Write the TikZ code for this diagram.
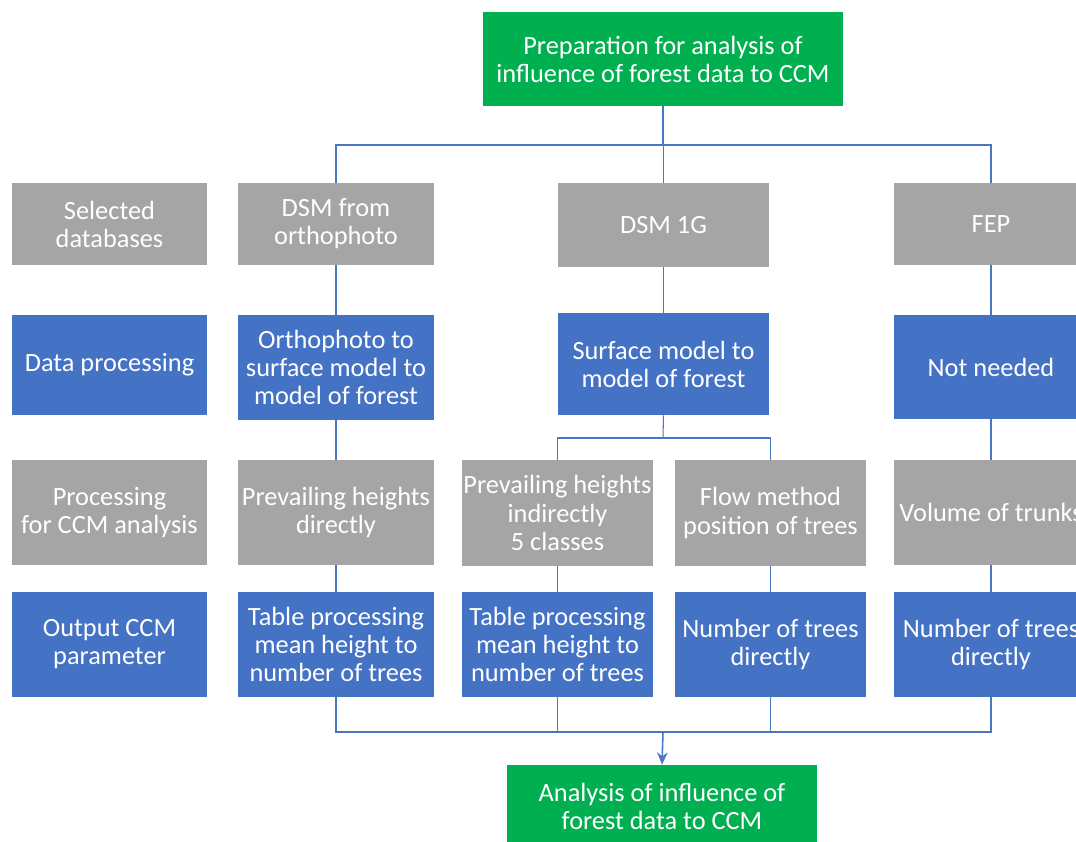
\documentclass[tikz,border=0pt]{standalone}
\usepackage{fontspec}
\setmainfont{Carlito}
\usetikzlibrary{arrows.meta}
\definecolor{boxgreen}{HTML}{00B050}
\definecolor{boxblue}{HTML}{4472C4}
\definecolor{boxgray}{HTML}{A5A5A5}
\definecolor{linkblue}{HTML}{4A76C6}
\begin{document}
\begin{tikzpicture}[x=0.02cm,y=-0.02cm,
    box/.style={text=white,inner sep=0pt,align=center,font=\fontsize{15}{16}\selectfont},
    greenbox/.style={box,fill=boxgreen},
    bluebox/.style={box,fill=boxblue},
    graybox/.style={box,fill=boxgray},
    link/.style={draw=linkblue,line width=0.6pt}]
  \useasboundingbox (0,0) rectangle (1076,842);
  %start
  \node[greenbox,minimum width=7.2cm,minimum height=1.88cm] (prep) at (663,59) {Preparation for analysis of\\influence of forest data to CCM};
  %databases
  \node[graybox,minimum width=3.9cm,minimum height=1.64cm] (seldb) at (109.5,224) {Selected\\databases};
  \node[graybox,minimum width=3.92cm,minimum height=1.64cm] (dsmo) at (336,224) {DSM from\\orthophoto};
  \node[graybox,minimum width=4.22cm,minimum height=1.68cm] (dsmg) at (663.5,225) {DSM 1G};
  \node[graybox,minimum width=3.88cm,minimum height=1.64cm] (fep) at (991,224) {FEP};
  %data processing
  \node[bluebox,minimum width=3.9cm,minimum height=2cm] (datap) at (109.5,365) {Data processing};
  \node[bluebox,minimum width=3.92cm,minimum height=2.1cm] (ortho) at (336,367.5) {Orthophoto to\\surface model to\\model of forest};
  \node[bluebox,minimum width=4.22cm,minimum height=2.04cm] (surf) at (663.5,364) {Surface model to\\model of forest};
  \node[bluebox,minimum width=3.88cm,minimum height=2.08cm] (notn) at (991,367) {Not needed};
  %processing for CCM
  \node[graybox,minimum width=3.9cm,minimum height=2.1cm] (procc) at (109.5,512.5) {Processing\\for CCM analysis};
  \node[graybox,minimum width=3.92cm,minimum height=2.1cm] (prevd) at (336,512.5) {Prevailing heights\\directly};
  \node[graybox,minimum width=3.82cm,minimum height=2.12cm] (previ) at (557.5,513) {Prevailing heights\\indirectly\\5 classes};
  \node[graybox,minimum width=3.82cm,minimum height=2.12cm] (flow) at (770.5,513) {Flow method\\position of trees};
  \node[graybox,minimum width=3.88cm,minimum height=2.1cm] (vol) at (991,512.5) {Volume of trunks};
  %output
  \node[bluebox,minimum width=3.9cm,minimum height=2.1cm] (outp) at (109.5,644.5) {Output CCM\\parameter};
  \node[bluebox,minimum width=3.92cm,minimum height=2.1cm] (tabd) at (336,644.5) {Table processing\\mean height to\\number of trees};
  \node[bluebox,minimum width=3.82cm,minimum height=2.1cm] (tabi) at (557.5,644.5) {Table processing\\mean height to\\number of trees};
  \node[bluebox,minimum width=3.82cm,minimum height=2.1cm] (numf) at (770.5,644.5) {Number of trees\\directly};
  \node[bluebox,minimum width=3.88cm,minimum height=2.1cm] (numv) at (991,644.5) {Number of trees\\directly};
  %end
  \node[greenbox,minimum width=6.2cm,minimum height=1.64cm] (anal) at (662,806) {Analysis of influence of\\forest data to CCM};
  %junctions
  \coordinate (split) at (663,145);
  \coordinate (splitsurf) at (663,438);
  \coordinate (merge) at (663,732);
  %connectors
  \draw[link] (prep.south) -- (split);
  \foreach \n in {dsmo,dsmg,fep}
    \draw[link] (split) -| (\n.north);
  \draw[link] (dsmo) -- (ortho) (ortho) -- (prevd) (prevd) -- (tabd);
  \draw[link] (dsmg) -- (surf);
  \draw[link] (fep) -- (notn) (notn) -- (vol) (vol) -- (numv);
  \draw[link] (surf.south) -- (splitsurf);
  \foreach \n in {previ,flow}
    \draw[link] (splitsurf) -| (\n.north);
  \draw[link] (previ) -- (tabi) (flow) -- (numf);
  \foreach \n in {tabd,tabi,numf,numv}
    \draw[link] (\n.south) |- (merge);
  \draw[link,line width=0.9pt,-{Stealth[length=7pt,width=6pt]}] (merge) -- (anal.north);
\end{tikzpicture}
\end{document}
